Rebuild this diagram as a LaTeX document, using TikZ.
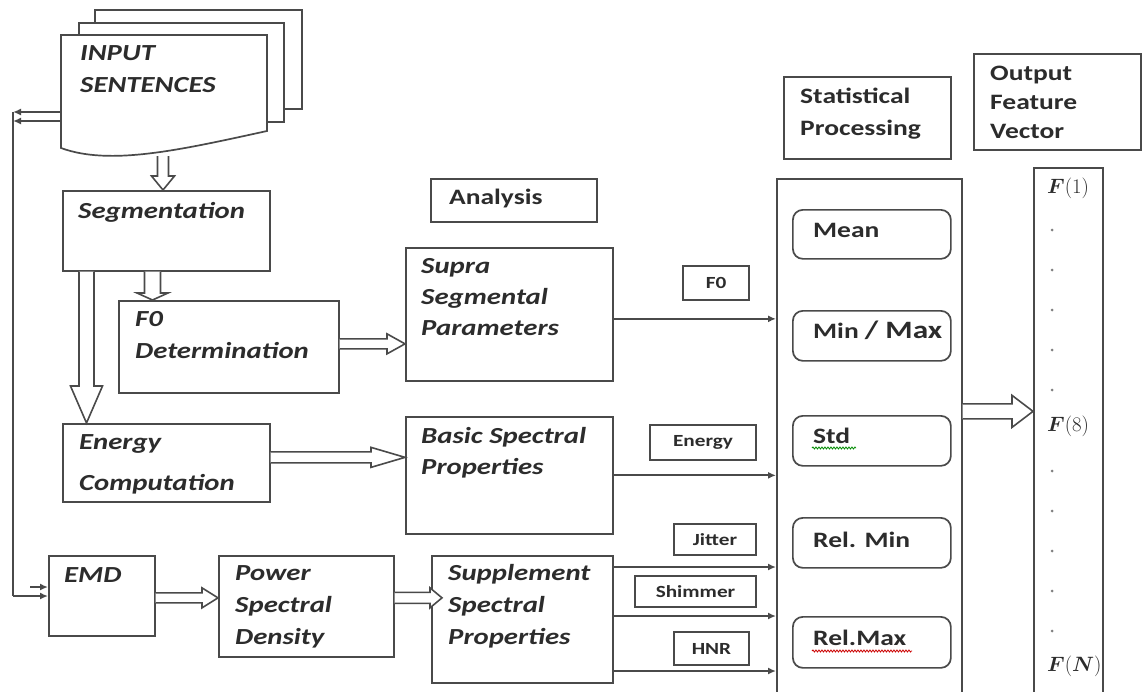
\documentclass[tikz,border=0pt]{standalone}
\usepackage{bm}
\usepackage{fontspec}
\setmainfont{Carlito}[FakeStretch=1.25]
\usetikzlibrary{arrows.meta,calc,decorations.pathmorphing}
\definecolor{linegray}{HTML}{4A4A4A}
\definecolor{inkgray}{HTML}{2C2C2C}

% stacked lines of text, baseline of the node = baseline of the first line
\newcommand\linestack[2]{\vtop{\baselineskip=#1\relax\lineskiplimit=-50pt\halign{##\hfil\cr#2\crcr}}}

% hollow block arrows: start, end, shaft half width, head half width, head length
\newcommand\blockright[5]{%
  \draw[hollow] let \p1=(#1), \p2=(#2) in
    (\x1,\y1+#3) -- (\x2-#5,\y1+#3) -- (\x2-#5,\y1+#4) -- (\x2,\y1)
    -- (\x2-#5,\y1-#4) -- (\x2-#5,\y1-#3) -- (\x1,\y1-#3);}
\newcommand\blockdown[5]{%
  \draw[hollow] let \p1=(#1), \p2=(#2) in
    (\x1-#3,\y1) -- (\x1-#3,\y2+#5) -- (\x1-#4,\y2+#5) -- (\x1,\y2)
    -- (\x1+#4,\y2+#5) -- (\x1+#3,\y2+#5) -- (\x1+#3,\y1);}

\begin{document}
\begin{tikzpicture}[x=1pt,y=-1pt,
  box/.style={draw=linegray, line width=1.7pt, fill=white, inner sep=0pt, anchor=north west},
  rbox/.style={box, rounded corners=10pt},
  tag/.style={draw=linegray, line width=1.5pt, inner sep=0pt, text=inkgray,
    font=\fontsize{17}{19}\selectfont\bfseries},
  lbl/.style={inner sep=0pt, anchor=base west, text=inkgray,
    font=\fontsize{23}{30}\selectfont\bfseries\itshape},
  hd/.style={inner sep=0pt, anchor=base west, text=inkgray,
    font=\fontsize{22}{30}\selectfont\bfseries},
  fv/.style={inner sep=0pt, anchor=base west, text=inkgray, font=\fontsize{22}{24}\selectfont},
  page/.style={draw=linegray, line width=1.7pt, fill=white},
  hollow/.style={draw=linegray, line width=1.6pt, fill=white, line join=miter},
  feed/.style={draw=linegray, line width=1.8pt},
  tip/.style={-{Latex[length=8pt,width=7pt]}},
  squiggle/.style={line width=0.8pt, decorate, decoration={snake, amplitude=1pt, segment length=3pt}},
]
\useasboundingbox (0,0) rectangle (1147,691);
\clip (0,0) rectangle (1147,691);

% stack of input pages
\draw[page] (95,10) rectangle (302,109);
\draw[page] (79,23) rectangle (284,122);
\draw[page] (61,148) -- (61,35) -- (267,35) -- (267,131)
  .. controls (180,150) and (110,166) .. (61,148) -- cycle;
\node[inner sep=0pt, minimum width=206pt, minimum height=113pt, anchor=north west] (doc) at (61,35) {};
\node[lbl] (docT) at (80,60) {\linestack{32pt}{INPUT\cr SENTENCES}};
\coordinate (docbot) at (163,156);

% processing boxes
\node[box, minimum width=207pt, minimum height=80pt]  (seg)    at (62,190)  {};
\node[box, minimum width=220pt, minimum height=92pt]  (f0)     at (118,300) {};
\node[box, minimum width=207pt, minimum height=78pt]  (energy) at (62,423)  {};
\node[box, minimum width=106pt, minimum height=80pt]  (emd)    at (48,555)  {};
\node[box, minimum width=175pt, minimum height=101pt] (psd)    at (218,555) {};
\node[box, minimum width=207pt, minimum height=133pt] (supra)  at (405,247) {};
\node[box, minimum width=207pt, minimum height=117pt] (basic)  at (405,416) {};
\node[box, minimum width=181pt, minimum height=127pt] (supp)   at (431,555) {};

\node[lbl] (segT)    at (78,218)  {Segmentation};
\node[lbl] (f0T)     at (135,326) {\linestack{32pt}{F0\cr Determination}};
\node[lbl] (energyT) at (79,449)  {\linestack{41pt}{Energy\cr Computation}};
\node[lbl] (emdT)    at (64,582)  {EMD};
\node[lbl] (psdT)    at (235,580) {\linestack{32pt}{Power\cr Spectral\cr Density}};
\node[lbl] (supraT)  at (421,273) {\linestack{31pt}{Supra\cr Segmental\cr Parameters}};
\node[lbl] (basicT)  at (421,443) {\linestack{31pt}{Basic Spectral\cr Properties}};
\node[lbl] (suppT)   at (448,580) {\linestack{32pt}{Supplement\cr Spectral\cr Properties}};

% headings
\node[box, minimum width=166pt, minimum height=43pt] (ana)  at (430,178) {};
\node[hd] (anaT) at (449,204) {Analysis};
\node[box, minimum width=167pt, minimum height=82pt] (stl)  at (783,76) {};
\node[hd] (stlT) at (800,103) {\linestack{32pt}{Statistical\cr Processing}};
\node[box, minimum width=167pt, minimum height=96pt] (outl) at (973,53) {};
\node[hd] (outT) at (990,80) {\linestack{29pt}{Output\cr Feature\cr Vector}};

% statistics column
\node[box, minimum width=185pt, minimum height=530pt] (stat) at (776,178) {};
\node[rbox, minimum width=158pt, minimum height=49pt] (mean)   at (792,209) {};
\node[rbox, minimum width=158pt, minimum height=50pt] (minmax) at (792,310) {};
\node[rbox, minimum width=158pt, minimum height=50pt] (std)    at (792,415) {};
\node[rbox, minimum width=158pt, minimum height=50pt] (relmin) at (792,517) {};
\node[rbox, minimum width=158pt, minimum height=51pt] (relmax) at (792,616) {};
\node[hd] (meanT)   at (813,237) {Mean};
\node[hd] (minmaxT) at (813,338) {Min {\fontsize{25}{30}\selectfont/ Max}};
\node[hd] (stdT)    at (813,443) {Std};
\node[hd] (relminT) at (813,547) {Rel. Min};
\node[hd] (relmaxT) at (813,645) {Rel.Max};
\draw[squiggle, green!55!black] (812,448) -- (856,448);
\draw[squiggle, red!80!black] (812,651) -- (912,651);

% feature vector column
\node[box, minimum width=69pt, minimum height=541pt] (fvec) at (1033,167) {};
\node[fv] (f1) at (1047,193) {$\bm{F}(1)$};
\node[fv] (f8) at (1047,431) {$\bm{F}(8)$};
\node[fv] (fn) at (1047,671) {$\bm{F}(\bm{N})$};
\foreach \yy in {230,270,310,350,390,471,511,551,591,631}
  \fill[gray] (1052,\yy) circle (1.5pt);

% parameter tags
\node[tag, minimum width=66pt,  minimum height=34pt] (tf0)  at (716,283)   {F0};
\node[tag, minimum width=106pt, minimum height=35pt] (ten)  at (703,442.5) {Energy};
\node[tag, minimum width=82pt,  minimum height=31pt] (tjit) at (715,539.5) {Jitter};
\node[tag, minimum width=121pt, minimum height=31pt] (tshi) at (695.5,591.5) {Shimmer};
\node[tag, minimum width=75pt,  minimum height=33pt] (thnr) at (711.5,648.5) {HNR};

% hollow arrows
\coordinate (s1) at (docbot);
\coordinate (e1) at (docbot |- seg.north);
\blockdown{s1}{e1}{5.5}{11.5}{14}
\coordinate (s2) at ($(seg.south west)+(24.5,0)$);
\coordinate (e2) at (s2 |- energy.north);
\blockdown{s2}{e2}{7.5}{16}{37}
\coordinate (s3) at ($(seg.south west)+(90.5,0)$);
\coordinate (e3) at (s3 |- f0.north);
\blockdown{s3}{e3}{8}{15.5}{7}
\coordinate (s4) at ($(f0.east)+(0,-3)$);
\coordinate (e4) at (s4 -| supra.west);
\blockright{s4}{e4}{5}{10}{18}
\coordinate (s5) at ($(energy.east)+(0,-5.5)$);
\coordinate (e5) at (s5 -| basic.west);
\blockright{s5}{e5}{5.5}{10}{34}
\coordinate (s6) at ($(emd.east)+(0,2)$);
\coordinate (e6) at (s6 -| psd.west);
\blockright{s6}{e6}{5}{10}{16}
\coordinate (s7) at ($(psd.east)+(0,-8.5)$);
\coordinate (e7) at ($(s7 -| supp.west)+(11,0)$);
\blockright{s7}{e7}{5.5}{10}{12}
\coordinate (s8) at ($(stat.east)+(0,-32.5)$);
\coordinate (e8) at (s8 -| fvec.west);
\blockright{s8}{e8}{7.5}{16}{21}

% parameter lines into the statistics block
\coordinate (p1) at ($(supra.east)+(0,4.5)$);
\draw[feed,tip] (p1) -- (p1 -| stat.west);
\coordinate (p2) at (basic.east);
\draw[feed,tip] (p2) -- (p2 -| stat.west);
\coordinate (p3) at ($(supp.north east)+(0,12)$);
\draw[feed,tip] (p3) -- (p3 -| stat.west);
\coordinate (p4) at ($(supp.north east)+(0,61)$);
\draw[feed,tip] (p4) -- (p4 -| stat.west);
\coordinate (p5) at ($(supp.north east)+(0,116)$);
\draw[feed,tip] (p5) -- (p5 -| stat.west);

% feedback from the input pages to EMD
\coordinate (fbtop) at (13,112);
\coordinate (fbbot) at (13,596);
\draw[feed,tip] (fbtop -| doc.west) -- (fbtop);
\draw[feed,tip] ($(fbtop -| doc.west)+(0,9)$) -- ($(fbtop)+(0,9)$);
\draw[feed] (fbtop) -- (fbbot);
\draw[feed,tip] (fbbot) -- (fbbot -| emd.west);
\draw[feed,tip] ($(fbbot)+(17,-9)$) -- ($(fbbot -| emd.west)+(0,-9)$);
\end{tikzpicture}
\end{document}
